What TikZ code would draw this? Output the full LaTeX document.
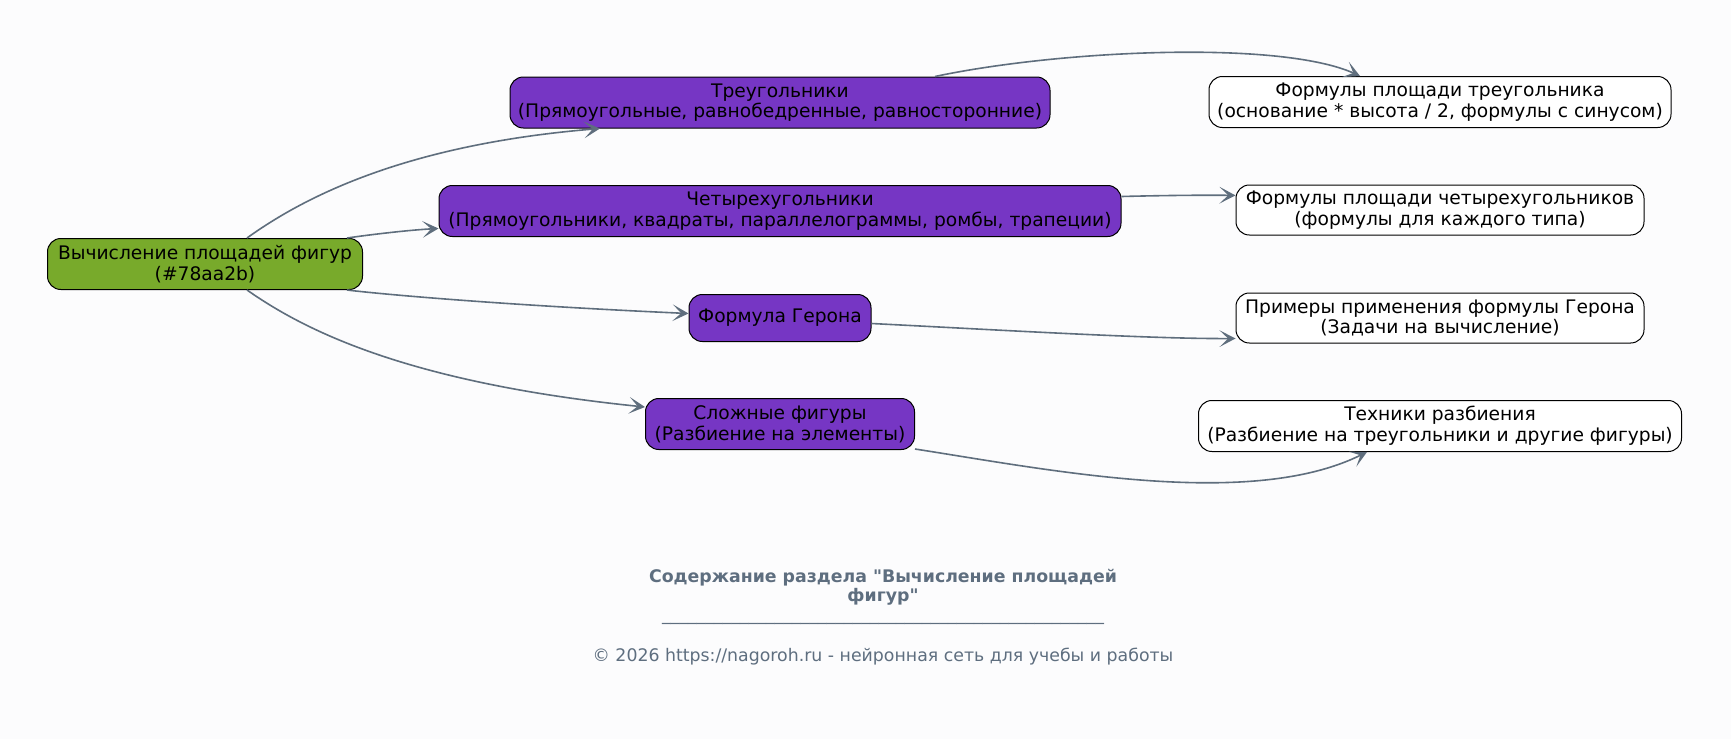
\documentclass[tikz,border=0pt]{standalone}
\usepackage{fontspec}
\setmainfont{DejaVu Sans}[Ligatures=TeXOff]
\usetikzlibrary{arrows.meta,calc}
\definecolor{bgc}{HTML}{FCFCFD}
\definecolor{purp}{HTML}{7636C4}
\definecolor{rootc}{HTML}{78AA2B}
\definecolor{edgec}{HTML}{5F6E7D}
\definecolor{textc}{HTML}{5E6E7F}
\newcommand\myuu{\_\_\_\_\_}
\begin{document}
\begin{tikzpicture}[x=0.75pt,y=-0.75pt,
  box/.style={draw=black, line width=0.75pt, rounded corners=10pt, align=center,
    font=\fontsize{14}{15.5}\selectfont, inner sep=0pt},
  midbox/.style={box, fill=purp},
  leafbox/.style={box, fill=white},
  conn/.style={draw=edgec, line width=1.2pt, -{Stealth[length=12pt,width=12.5pt,inset=6.5pt]}}
]
\fill[bgc] (0,0) rectangle (1731,739);
\useasboundingbox (0,0) rectangle (1731,739);

\node[box, fill=rootc, minimum width=236.25pt, minimum height=38.25pt] (root) at (205,264)
  {Вычисление площадей фигур\\(\#78aa2b)};
\node[midbox, minimum width=405pt, minimum height=38.25pt] (tri) at (780,102.5)
  {Треугольники\\(Прямоугольные, равнобедренные, равносторонние)};
\node[midbox, minimum width=511.5pt, minimum height=38.25pt] (quad) at (780,211)
  {Четырехугольники\\(Прямоугольники, квадраты, параллелограммы, ромбы, трапеции)};
\node[midbox, minimum width=136.5pt, minimum height=35.25pt] (heron) at (780,318)
  {Формула Герона};
\node[midbox, minimum width=201.75pt, minimum height=38.25pt] (complex) at (780,424)
  {Сложные фигуры\\(Разбиение на элементы)};

\node[leafbox, minimum width=346.5pt, minimum height=38.25pt] (ftri) at (1440,102)
  {Формулы площади треугольника\\(основание * высота / 2, формулы с синусом)};
\node[leafbox, minimum width=306pt, minimum height=37.5pt] (fquad) at (1440,210)
  {Формулы площади четырехугольников\\(формулы для каждого типа)};
\node[leafbox, minimum width=306pt, minimum height=37.5pt] (fher) at (1440,318)
  {Примеры применения формулы Герона\\(Задачи на вычисление)};
\node[leafbox, minimum width=362.25pt, minimum height=38.25pt] (tech) at (1440,426)
  {Техники разбиения\\(Разбиение на треугольники и другие фигуры)};

% connectors
\draw[conn] ($(root.north)+(42,0)$) .. controls (300,200) and (400,145) .. ($(tri.south)+(-180,0)$);
\draw[conn] ($(root.north)+(142,0)$) .. controls (375,234) and (410,230) .. ($(quad.west)+(0,17.5)$);
\draw[conn] ($(root.south)+(142,0)$) .. controls (380,294) and (500,305) .. ($(heron.west)+(0,-4.5)$);
\draw[conn] ($(root.south)+(42,0)$) .. controls (300,327) and (400,382) .. ($(complex.west)+(0,-17)$);

\draw[conn] ($(tri.north)+(155,0)$) .. controls (1060,50) and (1280,40) .. ($(ftri.north)+(-80,0)$);
\draw[conn] ($(quad.east)+(0,-14.5)$) .. controls (1160,195.5) and (1200,195) .. ($(fquad.west)+(0,-14.6)$);
\draw[conn] ($(heron.east)+(0,5.5)$) .. controls (1000,330) and (1150,339) .. ($(fher.west)+(0,20.5)$);
\draw[conn] ($(complex.south east)+(0,-1)$) .. controls (1050,470) and (1250,510) .. ($(tech.south)+(-73,0)$);

% footer
\node[text=textc, font=\bfseries\fontsize{13}{14}\selectfont, align=center] (title) at (883,587.5)
  {Содержание раздела "Вычисление площадей\\фигур"};
\node[text=textc, font=\fontsize{13}{14}\selectfont] (rule) at (883,623)
  {\myuu\myuu\myuu\myuu\myuu\myuu\myuu\myuu\myuu\myuu\_};
\node[text=textc, font=\fontsize{13}{14}\selectfont] (copy) at (883,657)
  {© 2026 https://nagoroh.ru - нейронная сеть для учебы и работы};
\end{tikzpicture}
\end{document}
